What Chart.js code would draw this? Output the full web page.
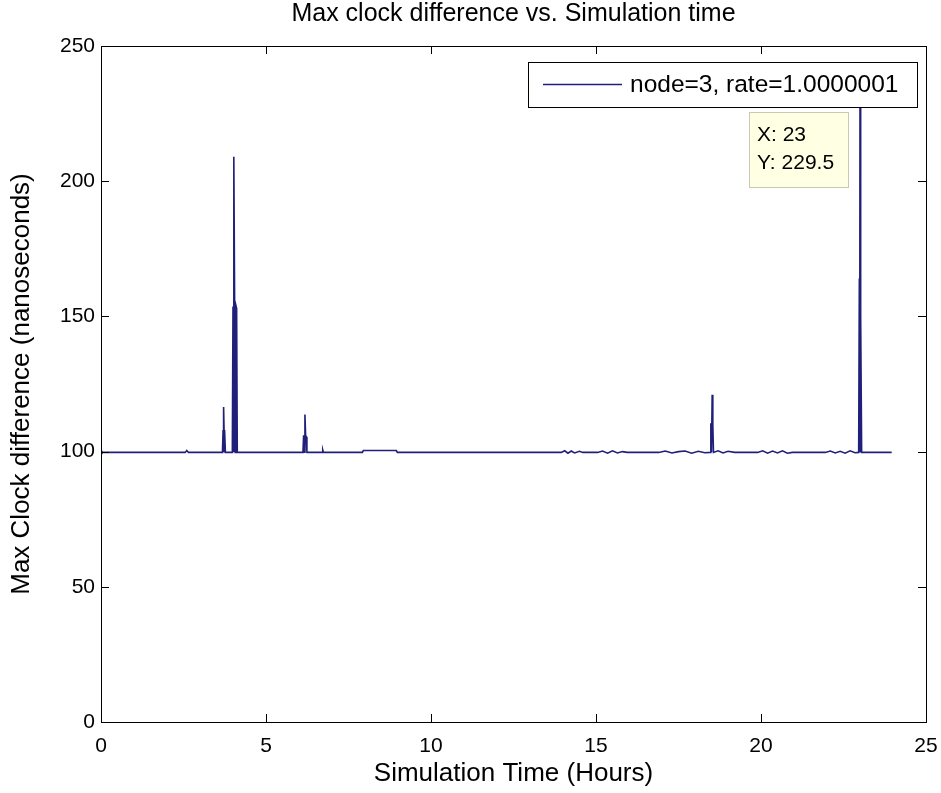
<!DOCTYPE html>
<html>
<head>
<meta charset="utf-8">
<script src="https://cdn.jsdelivr.net/npm/chart.js@4.4.1/dist/chart.umd.min.js"></script>
<style>
  html, body { margin: 0; padding: 0; background: #ffffff; }
  #wrap { width: 941px; height: 793px; }
</style>
</head>
<body>
<div id="wrap"><canvas id="clockChart" width="941" height="793"></canvas></div>
<script>
// simulation time (hours) and max clock difference (ns)
const hours = [
    0, 0.03, 0.06, 1.2, 2.55, 2.6, 2.65, 3.68,
    3.70, 3.71, 3.72, 3.73, 3.74, 3.75, 3.77,
    3.98, 4.00, 4.02, 4.03, 4.05, 4.07, 4.09, 4.11, 4.13,
    6.12, 6.14, 6.16, 6.18, 6.20, 6.22, 6.24,
    6.70, 6.72, 6.74, 7.92, 7.95, 8.95, 8.98,
    12.0, 13.95, 14.05, 14.15, 14.25, 14.35, 14.5, 14.6,
    15.05, 15.2, 15.35, 15.5, 15.65, 15.8, 15.95,
    16.9, 17.1, 17.3, 17.5, 17.7, 17.9, 18.1, 18.3,
    18.46, 18.48, 18.50, 18.52, 18.54, 18.56,
    18.7, 18.85, 19.0, 19.2,
    19.9, 20.05, 20.2, 20.35, 20.5, 20.65, 20.8, 20.95,
    21.95, 22.1, 22.25, 22.4, 22.55, 22.7, 22.85,
    22.96, 22.98, 22.99, 23.00, 23.01, 23.02, 23.03, 23.05, 23.07,
    23.3, 23.96
];
const clockDiff = [
    100.3, 99.8, 99.7, 99.7, 99.7, 100.4, 99.7, 99.7,
    108.0, 99.8, 116.5, 107.5, 99.7, 108.0, 99.7,
    99.7, 153.7, 99.8, 209.0, 153.5, 99.7, 154.0, 153.0, 99.7,
    99.7, 106.0, 99.8, 113.7, 106.0, 105.5, 99.7,
    99.7, 100.6, 99.7, 99.7, 100.4, 100.4, 99.7,
    99.7, 99.7, 100.3, 99.4, 100.2, 99.5, 100.1, 99.7,
    99.7, 100.2, 99.4, 100.3, 99.5, 100.0, 99.7,
    99.7, 100.2, 99.5, 100.0, 100.2, 99.4, 100.1, 99.6,
    99.7, 110.5, 99.8, 121.0, 110.0, 99.7,
    100.3, 99.5, 100.1, 99.7,
    99.7, 100.3, 99.4, 100.2, 99.5, 100.3, 99.4, 99.7,
    99.7, 100.2, 99.5, 100.1, 99.4, 100.3, 99.6,
    99.7, 164.0, 99.8, 229.5, 164.0, 99.7, 150.0, 99.7, 99.7,
    99.7, 99.7
];

const xTicks = [0, 5, 10, 15, 20, 25];
const yTicks = [0, 50, 100, 150, 200, 250];
const chartTitle = 'Max clock difference vs. Simulation time';
const seriesLabel = 'node=3, rate=1.0000001';
const tipHour = 23;
const tipValue = 229.5;

const FONT = "'Liberation Sans', Arial, sans-serif";
const LINE_COLOR = '#20207a';
const TICK_LEN = 8;

// title centred over the axes, like MATLAB does it
const axesTitlePlugin = {
    id: 'axesTitle',
    afterDraw(chart) {
        const { ctx, chartArea: a } = chart;
        ctx.save();
        ctx.font = '25px ' + FONT;
        ctx.fillStyle = '#000';
        ctx.textAlign = 'center';
        ctx.textBaseline = 'middle';
        ctx.fillText(chartTitle, (a.left + a.right) / 2, a.top - 32);
        ctx.restore();
    }
};

// MATLAB-like box with inward ticks on all four sides
const boxPlugin = {
    id: 'matlabBox',
    afterDatasetsDraw(chart) {
        const { ctx, chartArea: a, scales } = chart;
        ctx.save();
        ctx.strokeStyle = '#000';
        ctx.lineWidth = 1;
        ctx.beginPath();
        xTicks.forEach(v => {
            const px = Math.round(scales.x.getPixelForValue(v)) + 0.5;
            ctx.moveTo(px, a.bottom); ctx.lineTo(px, a.bottom - TICK_LEN);
            ctx.moveTo(px, a.top); ctx.lineTo(px, a.top + TICK_LEN);
        });
        yTicks.forEach(v => {
            const py = Math.round(scales.y.getPixelForValue(v)) + 0.5;
            ctx.moveTo(a.left, py); ctx.lineTo(a.left + TICK_LEN, py);
            ctx.moveTo(a.right, py); ctx.lineTo(a.right - TICK_LEN, py);
        });
        ctx.stroke();
        ctx.strokeRect(Math.round(a.left) + 0.5, Math.round(a.top) + 0.5,
            Math.round(a.right - a.left), Math.round(a.bottom - a.top));
        ctx.restore();
    }
};

// legend box in the upper right corner of the axes
const legendBoxPlugin = {
    id: 'legendBox',
    afterDraw(chart) {
        const { ctx, chartArea: a } = chart;
        const ds = chart.data.datasets[0];
        ctx.save();
        ctx.font = '24.5px ' + FONT;
        const textW = ctx.measureText(ds.label).width;
        const sampleW = 79, gap = 8, padL = 15, padR = 19, h = 45;
        const w = Math.round(padL + sampleW + gap + textW + padR);
        const right = a.right - 9;
        const left = Math.round(right - w);
        const top = Math.round(a.top + 16);
        ctx.fillStyle = '#fff';
        ctx.fillRect(left, top, w, h);
        ctx.strokeStyle = '#000';
        ctx.lineWidth = 1;
        ctx.strokeRect(left + 0.5, top + 0.5, w, h);
        const midY = top + h / 2;
        ctx.strokeStyle = ds.borderColor;
        ctx.lineWidth = 1.3;
        ctx.beginPath();
        ctx.moveTo(left + padL, midY);
        ctx.lineTo(left + padL + sampleW, midY);
        ctx.stroke();
        ctx.fillStyle = '#000';
        ctx.textBaseline = 'middle';
        ctx.fillText(ds.label, left + padL + sampleW + gap, midY + 1);
        ctx.restore();
    }
};

// data tip next to the tallest peak
const dataTipPlugin = {
    id: 'dataTip',
    afterDraw(chart) {
        const { ctx, scales } = chart;
        const px = scales.x.getPixelForValue(tipHour);
        const py = scales.y.getPixelForValue(tipValue);
        const w = 99, h = 75;
        const left = Math.round(px - 12 - w);
        const top = Math.round(py + 11);
        ctx.save();
        ctx.fillStyle = '#ffffe3';
        ctx.fillRect(left, top, w, h);
        ctx.strokeStyle = '#c8c8b4';
        ctx.lineWidth = 1;
        ctx.strokeRect(left + 0.5, top + 0.5, w, h);
        ctx.fillStyle = '#000';
        ctx.font = '21px ' + FONT;
        ctx.textBaseline = 'middle';
        ctx.fillText('X: ' + tipHour, left + 8, top + 23);
        ctx.fillText('Y: ' + tipValue, left + 8, top + 51);
        ctx.restore();
    }
};

const points = hours.map((h, i) => ({ x: h, y: clockDiff[i] }));

new Chart(document.getElementById('clockChart'), {
    type: 'line',
    data: {
        datasets: [{
            label: seriesLabel,
            data: points,
            borderColor: LINE_COLOR,
            backgroundColor: LINE_COLOR,
            borderWidth: 1.6,
            pointRadius: 0,
            tension: 0,
            fill: false
        }]
    },
    options: {
        responsive: false,
        animation: false,
        layout: { padding: { top: 46, right: 15, bottom: 0, left: 0 } },
        plugins: {
            legend: { display: false },
            tooltip: { enabled: false },
            title: { display: false }
        },
        scales: {
            x: {
                type: 'linear',
                min: 0,
                max: 25,
                afterBuildTicks(scale) { scale.ticks = xTicks.map(v => ({ value: v })); },
                afterFit(scale) {
                    scale.height = 71;
                    scale.paddingLeft = 0;
                    scale.paddingRight = 0;
                },
                grid: { display: false, drawTicks: false },
                border: { display: false },
                ticks: { color: '#000', padding: 12, font: { family: FONT, size: 21 } },
                title: {
                    display: true,
                    text: 'Simulation Time (Hours)',
                    color: '#000',
                    font: { family: FONT, size: 26 },
                    padding: { top: 0, bottom: 4 }
                }
            },
            y: {
                min: 0,
                max: 250,
                afterBuildTicks(scale) { scale.ticks = yTicks.map(v => ({ value: v })); },
                afterFit(scale) {
                    scale.width = 101;
                    scale.paddingTop = 0;
                    scale.paddingBottom = 0;
                },
                grid: { display: false, drawTicks: false },
                border: { display: false },
                ticks: { color: '#000', padding: 6, font: { family: FONT, size: 21 } },
                title: {
                    display: true,
                    text: 'Max Clock difference (nanoseconds)',
                    color: '#000',
                    font: { family: FONT, size: 26 },
                    padding: { top: 6, bottom: 0 }
                }
            }
        }
    },
    plugins: [boxPlugin, legendBoxPlugin, dataTipPlugin, axesTitlePlugin]
});
</script>
</body>
</html>
